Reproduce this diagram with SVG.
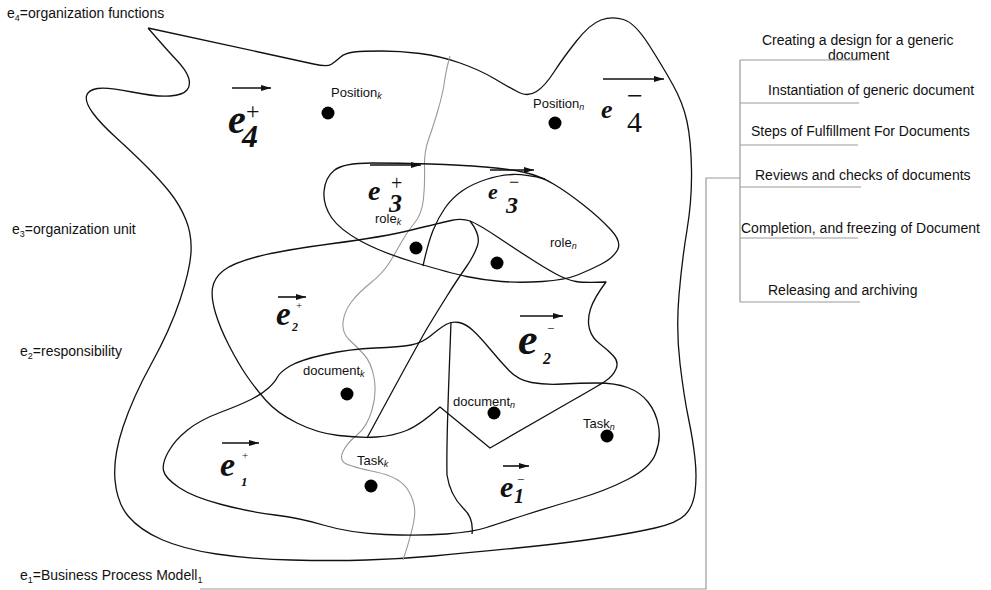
<svg xmlns="http://www.w3.org/2000/svg" width="991" height="590" viewBox="0 0 991 590">
<defs>
<style>
.ln{fill:none;stroke:#111;stroke-width:1.3;stroke-linejoin:round}
.gr{fill:none;stroke:#999;stroke-width:1.1}
.pn{fill:none;stroke:#999;stroke-width:1.2}
.t{font-family:"Liberation Sans",Arial,sans-serif;font-size:14px;fill:#111}
.s{font-size:13px}
.sub{font-size:9px}
.ks{font-size:9px;font-style:italic}
.m{font-family:"Liberation Serif","Times New Roman",serif;fill:#111}
.bi{font-weight:bold;font-style:italic}
.dot{fill:#000}
.ar{stroke:#111;stroke-width:1.6;fill:none;marker-end:url(#ah)}
</style>
<marker id="ah" viewBox="0 0 10 6" refX="10" refY="3" markerWidth="10" markerHeight="6" markerUnits="userSpaceOnUse" orient="auto">
<path d="M0,0 L10,3 L0,6 z" fill="#111"/>
</marker>
</defs>
<rect width="991" height="590" fill="#fff"/>

<g id="region-e4">
<path class="ln" d="M148,28 Q240,48 270,54.5 Q300,61 313.5,64 Q327,67 331,64.5 Q335,62 340,57.5 Q345,53 354,52 Q363,51 381.5,51 Q400,51 420,53.5 Q440,56 460,63 Q480,70 495,79 Q510,88 519,92.5 Q528,97 536.5,91.5 Q545,86 554,72 Q563,58 576.5,41 Q590,24 601,20 Q612,16 623.5,19.5 Q635,23 649,45 Q663,67 673,85 Q683,103 687,121.5 Q691,140 691.5,170 Q692,200 687,230 Q682,260 679,295 Q676,330 680,363.5 Q684,397 688.5,418.5 Q693,440 695,458.5 Q697,477 695,492 Q693,507 685,515 Q677,523 655,528 Q633,533 600,538 Q567,543 517,548 Q467,553 433.5,556 Q400,559 366.5,560 Q333,561 291.5,560 Q250,559 216.5,554 Q183,549 161.5,539.5 Q140,530 128.5,516.5 Q117,503 115,480 Q113,457 123,427 Q133,397 151.5,363.5 Q170,330 180,300 Q190,270 191,252.5 Q192,235 186,220 Q180,205 170,192.5 Q160,180 146.5,166.5 Q133,153 116.5,138 Q100,123 92.5,112.5 Q85,102 86.5,96 Q88,90 97.5,88.5 Q107,87 132,92 Q157,97 170,96 Q183,95 187,90 Q191,85 188.5,77.5 Q186,70 176.5,60 Q167,50 148,28"/>
</g>

<g id="divider-k-n">
<path class="gr" d="M450,56 Q446,70 444.5,81.5 Q443,93 438,110 Q433,127 428.5,139.5 Q424,152 424.5,167.5 Q425,183 423.5,198.5 Q422,214 414.5,223 Q407,232 401.5,242 Q396,252 389.5,262.5 Q383,273 370.5,283 Q358,293 351,302.5 Q344,312 343,322.5 Q342,333 349.5,340 Q357,347 364,354.5 Q371,362 374,377.5 Q377,393 372,410 Q367,427 357,435 Q347,443 343,451.5 Q339,460 345.5,463.5 Q352,467 376,472 Q400,477 408,490 Q416,503 414.5,516.5 Q413,530 403,560"/>
</g>

<g id="region-e3">
<path class="ln" d="M334,170.5 Q343,163 371.5,163 Q400,163 430,164 Q460,165 485,167 Q510,169 525,172.5 Q540,176 553.5,184 Q567,192 583.5,205 Q600,218 611,230 Q622,242 617.5,250 Q613,258 601.5,264 Q590,270 577.5,275 Q565,280 542.5,281.5 Q520,283 501.5,281.5 Q483,280 466.5,276.5 Q450,273 416.5,263 Q383,253 361.5,241.5 Q340,230 331.5,217.5 Q323,205 324,191.5 Q325,178 334,170.5 Z"/>
<path class="ln" d="M423,266 Q428,243 433,230.5 Q438,218 445,208 Q452,198 462,191 Q472,184 486,179.5 Q500,175 512.5,174.5 Q525,174 545,179"/>
</g>

<g id="region-e2">
<path class="ln" d="M440,407 Q420,425 406.5,430.5 Q393,436 376.5,437 Q360,438 338.5,435.5 Q317,433 297,423 Q277,413 266,400.5 Q255,388 246.5,375.5 Q238,363 229,345.5 Q220,328 215.5,313 Q211,298 212.5,288 Q214,278 223.5,270.5 Q233,263 258,256.5 Q283,250 333,243.5 Q383,237 411.5,230 Q440,223 451,220.5 Q462,218 470,221 Q478,224 497.5,237 Q517,250 531,259 Q545,268 556,274 Q567,280 576,281.5 Q585,283 606,282 Q594,298 590.5,309 Q587,320 589.5,329 Q592,338 600,344 Q608,350 613.5,356 Q619,362 616,369 Q613,376 605.5,381 Q598,386 571.5,401 L490,448 L440,407 Z"/>
<path class="ln" d="M470,221 Q481,235 477.5,245.5 Q474,256 465.5,268 Q457,280 447,296 Q437,312 428.5,326 Q420,340 367,438"/>
</g>

<g id="region-e1">
<path class="ln" d="M163.5,470.5 Q162,463 168.5,451.5 Q175,440 187.5,430 Q200,420 220,412.5 Q240,405 251,399.5 Q262,394 268.5,388 Q275,382 277.5,377 Q280,372 290,366 Q300,360 325,354.5 Q350,349 375,348 Q400,347 411,345 Q422,343 431,335.5 Q440,328 446,324.5 Q452,321 459,322.5 Q466,324 473,330.5 Q480,337 490,349 Q500,361 509,370.5 Q518,380 531.5,382.5 Q545,385 562.5,384 Q580,383 597.5,383 Q615,383 627.5,387.5 Q640,392 648,402 Q656,412 658.5,426 Q661,440 655.5,454 Q650,468 627.5,479.5 Q605,491 577.5,499 Q550,507 525,515 Q500,523 486.5,527.5 Q473,532 446.5,534 Q420,536 385,534.5 Q350,533 325,525.5 Q300,518 275,515 Q250,512 221.5,504.5 Q193,497 179,487.5 Q165,478 163.5,470.5 Z"/>
<path class="ln" d="M451,322 C449,380 446,440 447,475 Q450,495 463,508 Q474,518 472,534"/>
</g>

<g id="label-e4">
<text class="t" x="7" y="18">e<tspan class="sub" dy="3">4</tspan><tspan dy="-3">=organization functions</tspan></text>
</g>
<g id="label-e3">
<text class="t" x="12" y="234">e<tspan class="sub" dy="3">3</tspan><tspan dy="-3">=organization unit</tspan></text>
</g>
<g id="label-e2">
<text class="t" x="20" y="356">e<tspan class="sub" dy="3">2</tspan><tspan dy="-3">=responsibility</tspan></text>
</g>
<g id="label-e1">
<text class="t" x="20" y="580">e<tspan class="sub" dy="3">1</tspan><tspan dy="-3">=Business Process Modell</tspan><tspan class="sub" dy="3">1</tspan></text>
</g>

<g id="position-k">
<text class="t s" x="331" y="97">Position<tspan class="ks" dy="2">k</tspan></text>
<circle class="dot" cx="328" cy="113" r="6.5"/>
</g>
<g id="position-n">
<text class="t s" x="533" y="108">Position<tspan class="ks" dy="2">n</tspan></text>
<circle class="dot" cx="555" cy="123" r="6.5"/>
</g>
<g id="role-k">
<text class="t s" x="375" y="223">role<tspan class="ks" dy="2">k</tspan></text>
<circle class="dot" cx="416" cy="248" r="6.5"/>
</g>
<g id="role-n">
<text class="t s" x="550" y="247">role<tspan class="ks" dy="2">n</tspan></text>
<circle class="dot" cx="497" cy="263" r="6.5"/>
</g>
<g id="document-k">
<text class="t s" x="303" y="375">document<tspan class="ks" dy="2">k</tspan></text>
<circle class="dot" cx="347" cy="394" r="6.5"/>
</g>
<g id="document-n">
<text class="t s" x="453" y="406">document<tspan class="ks" dy="2">n</tspan></text>
<circle class="dot" cx="494" cy="413" r="6.5"/>
</g>
<g id="task-k">
<text class="t s" x="357" y="465">Task<tspan class="ks" dy="2">k</tspan></text>
<circle class="dot" cx="371" cy="486" r="6.5"/>
</g>
<g id="task-n">
<text class="t s" x="583" y="428">Task<tspan class="ks" dy="2">n</tspan></text>
<circle class="dot" cx="607" cy="436" r="6.5"/>
</g>

<g id="vec-e4-plus">
<line class="ar" x1="232" y1="88" x2="271" y2="88"/>
<text class="m bi" x="228" y="133" font-size="40">e</text>
<text class="m" x="246" y="119" font-size="24">+</text>
<text class="m bi" x="242" y="147" font-size="32">4</text>
</g>
<g id="vec-e4-minus">
<line class="ar" x1="603" y1="79" x2="664" y2="79"/>
<text class="m bi" x="601" y="118" font-size="26">e</text>
<text class="m" x="627" y="105" font-size="28">−</text>
<text class="m" x="627" y="132" font-size="30">4</text>
</g>
<g id="vec-e3-plus">
<line class="ar" x1="370" y1="165" x2="421" y2="165"/>
<text class="m bi" x="368" y="200" font-size="28">e</text>
<text class="m" x="391" y="190" font-size="20">+</text>
<text class="m bi" x="389" y="212" font-size="26">3</text>
</g>
<g id="vec-e3-minus">
<line class="ar" x1="490" y1="170" x2="534" y2="170"/>
<text class="m bi" x="488" y="199" font-size="22">e</text>
<text class="m" x="509" y="188" font-size="18">−</text>
<text class="m bi" x="506" y="213" font-size="24">3</text>
</g>
<g id="vec-e2-plus">
<line class="ar" x1="278" y1="297" x2="306" y2="297"/>
<text class="m bi" x="276" y="325" font-size="33">e</text>
<text class="m" x="296" y="309" font-size="11">+</text>
<text class="m bi" x="292" y="331" font-size="12">2</text>
</g>
<g id="vec-e2-minus">
<line class="ar" x1="520" y1="316" x2="563" y2="316"/>
<text class="m bi" x="518" y="354" font-size="44">e</text>
<text class="m" x="547" y="333" font-size="13">−</text>
<text class="m bi" x="543" y="364" font-size="16">2</text>
</g>
<g id="vec-e1-plus">
<line class="ar" x1="222" y1="443" x2="259" y2="443"/>
<text class="m bi" x="220" y="476" font-size="34">e</text>
<text class="m" x="242" y="459" font-size="11">+</text>
<text class="m bi" x="241" y="486" font-size="13">1</text>
</g>
<g id="vec-e1-minus">
<line class="ar" x1="503" y1="466" x2="529" y2="466"/>
<text class="m bi" x="500" y="497" font-size="30">e</text>
<text class="m" x="517" y="484" font-size="13">−</text>
<text class="m bi" x="514" y="503" font-size="20">1</text>
</g>

<g id="phases">
<text class="t" x="762" y="45">Creating a design for a generic</text>
<text class="t" x="828" y="60">document</text>
<text class="t" x="768" y="95">Instantiation of generic document</text>
<text class="t" x="751" y="136">Steps of Fulfillment For Documents</text>
<text class="t" x="755" y="180">Reviews and checks of documents</text>
<text class="t" x="741" y="233">Completion, and freezing of Document</text>
<text class="t" x="768" y="295">Releasing and archiving</text>
</g>

<g id="connectors">
<polyline class="pn" points="200,589 706,589 706,178 740,178"/>
<line class="pn" x1="740" y1="60" x2="740" y2="302"/>
<line class="pn" x1="740" y1="60" x2="860" y2="60"/>
<line class="pn" x1="740" y1="103" x2="859" y2="103"/>
<line class="pn" x1="740" y1="145" x2="858" y2="145"/>
<line class="pn" x1="740" y1="187" x2="861" y2="187"/>
<line class="pn" x1="740" y1="238" x2="858" y2="238"/>
<line class="pn" x1="740" y1="302" x2="860" y2="302"/>
</g>
</svg>
